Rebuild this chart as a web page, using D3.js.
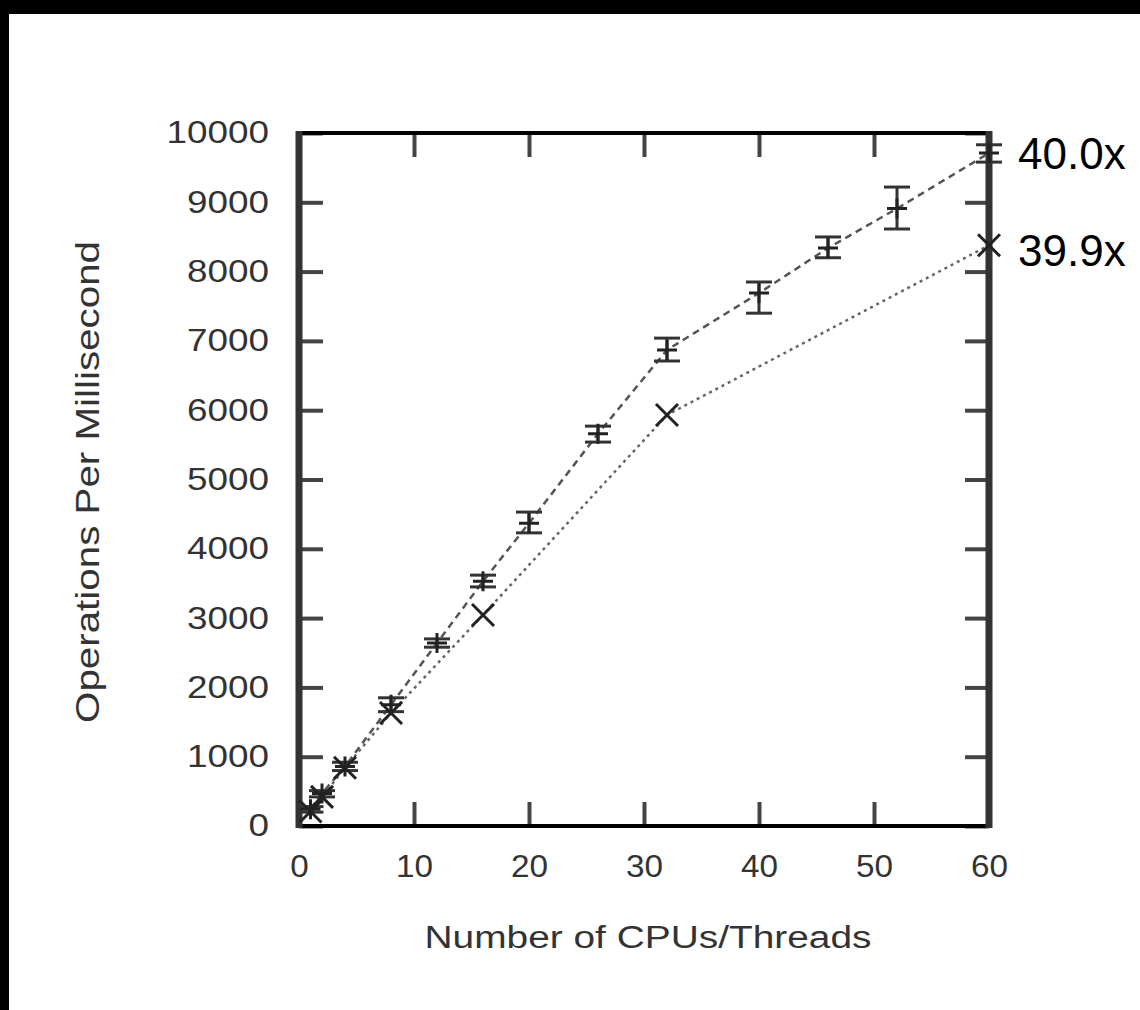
<!DOCTYPE html>
<html>
<head>
<meta charset="utf-8">
<script src="https://cdn.jsdelivr.net/npm/d3@7"></script>
<style>
  body { margin: 0; background: #fff; }
  svg { display: block; }
  text { font-family: "Liberation Sans", Arial, sans-serif; }
</style>
</head>
<body>
<div class="chart"></div>
<script>
// values
const xTicks = [0, 10, 20, 30, 40, 50, 60];
const yTicks = [0, 1000, 2000, 3000, 4000, 5000, 6000, 7000, 8000, 9000, 10000];

// dashed series, "+" points with error bars
const threads1 = [1, 2, 4, 8, 12, 16, 20, 26, 32, 40, 46, 52, 60];
const ops1 = [243, 470, 860, 1750, 2640, 3530, 4370, 5660, 6870, 7690, 8340, 8910, 9710];
const ops1Low = [200, 420, 800, 1650, 2580, 3450, 4230, 5540, 6710, 7400, 8200, 8615, 9580];
const ops1High = [280, 510, 920, 1850, 2700, 3620, 4530, 5770, 7040, 7850, 8500, 9220, 9830];

// dotted series, "x" points
const threads2 = [1, 2, 4, 8, 16, 32, 60];
const ops2 = [210, 420, 840, 1630, 3045, 5930, 8380];

const speedups = ["40.0x", "39.9x"];

const W = 1140, H = 1010;
const margin = {top: 133, left: 299, right: 151, bottom: 184};
const width = W - margin.left - margin.right,
      height = H - margin.top - margin.bottom;

const svg = d3.select(".chart").append("svg")
    .attr("width", W)
    .attr("height", H);

// black border of the screenshot
svg.append("rect").attr("x", 0).attr("y", 0).attr("width", W).attr("height", 14).attr("fill", "#000");
svg.append("rect").attr("x", 0).attr("y", 0).attr("width", 9).attr("height", H).attr("fill", "#000");

const g = svg.append("g")
    .attr("transform", "translate(" + margin.left + "," + margin.top + ")");

const x = d3.scaleLinear().domain([0, 60]).range([0, width]);
const y = d3.scaleLinear().domain([0, 10000]).range([height, 0]);

// axes, ticks pointing inward on all four sides
const xAxis = g.append("g")
    .attr("transform", "translate(0," + height + ")")
    .call(d3.axisBottom(x).tickValues(xTicks).tickSize(-24).tickPadding(29).tickFormat(d3.format("d")));
const yAxis = g.append("g")
    .call(d3.axisLeft(y).tickValues(yTicks).tickSize(-24).tickPadding(30).tickFormat(d3.format("d")));
g.append("g")
    .call(d3.axisTop(x).tickValues(xTicks).tickSize(-24).tickFormat(""));
g.append("g")
    .attr("transform", "translate(" + width + ",0)")
    .call(d3.axisRight(y).tickValues(yTicks).tickSize(-24).tickFormat(""));

g.selectAll(".domain").remove();
g.selectAll(".tick line").attr("stroke", "#444").attr("stroke-width", 4);

xAxis.selectAll("text")
    .attr("font-size", 31)
    .attr("fill", "#333")
    .attr("textLength", d => String(d).length * 18.5)
    .attr("lengthAdjust", "spacingAndGlyphs");
yAxis.selectAll("text")
    .attr("font-size", 31)
    .attr("fill", "#333")
    .attr("textLength", d => String(d).length * 20.5)
    .attr("lengthAdjust", "spacingAndGlyphs");

// frame
g.append("line").attr("x1", 0).attr("x2", width).attr("y1", 0).attr("y2", 0)
    .attr("stroke", "#000").attr("stroke-width", 4);
g.append("line").attr("x1", 0).attr("x2", width).attr("y1", height).attr("y2", height)
    .attr("stroke", "#000").attr("stroke-width", 4);
g.append("line").attr("x1", 0).attr("x2", 0).attr("y1", -2).attr("y2", height + 2)
    .attr("stroke", "#333").attr("stroke-width", 7);
g.append("line").attr("x1", width).attr("x2", width).attr("y1", -2).attr("y2", height + 2)
    .attr("stroke", "#333").attr("stroke-width", 7);

// axis titles
svg.append("text")
    .attr("x", margin.left + width / 2 + 4)
    .attr("y", 948)
    .attr("text-anchor", "middle")
    .attr("font-size", 31)
    .attr("fill", "#333")
    .attr("textLength", 447)
    .attr("lengthAdjust", "spacingAndGlyphs")
    .text("Number of CPUs/Threads");

svg.append("text")
    .attr("transform", "translate(99,482) rotate(-90)")
    .attr("text-anchor", "middle")
    .attr("font-size", 34)
    .attr("fill", "#333")
    .attr("textLength", 482)
    .attr("lengthAdjust", "spacingAndGlyphs")
    .text("Operations Per Millisecond");

// lines
const pts1 = threads1.map((t, i) => ({t: t, v: ops1[i], lo: ops1Low[i], hi: ops1High[i]}));
const pts2 = threads2.map((t, i) => ({t: t, v: ops2[i]}));

const line = d3.line().x(d => x(d.t)).y(d => y(d.v));

g.append("path")
    .datum(pts1)
    .attr("fill", "none")
    .attr("stroke", "#555")
    .attr("stroke-width", 2.5)
    .attr("stroke-dasharray", "7,5")
    .attr("d", line);

g.append("path")
    .datum(pts2)
    .attr("fill", "none")
    .attr("stroke", "#666")
    .attr("stroke-width", 2.5)
    .attr("stroke-dasharray", "3,4")
    .attr("d", line);

// error bars
const err = g.selectAll(".err")
    .data(pts1)
    .enter()
    .append("g")
    .attr("class", "err")
    .attr("stroke", "#333")
    .attr("stroke-width", 3);
err.append("line")
    .attr("x1", d => x(d.t)).attr("x2", d => x(d.t))
    .attr("y1", d => y(d.lo)).attr("y2", d => y(d.hi));
err.append("line")
    .attr("x1", d => x(d.t) - 13).attr("x2", d => x(d.t) + 13)
    .attr("y1", d => y(d.lo)).attr("y2", d => y(d.lo));
err.append("line")
    .attr("x1", d => x(d.t) - 13).attr("x2", d => x(d.t) + 13)
    .attr("y1", d => y(d.hi)).attr("y2", d => y(d.hi));

// "+" markers
g.selectAll(".plus")
    .data(pts1)
    .enter()
    .append("path")
    .attr("class", "plus")
    .attr("stroke", "#222")
    .attr("stroke-width", 3)
    .attr("d", d => {
        const cx = x(d.t), cy = y(d.v), s = 10;
        return "M" + (cx - s) + "," + cy + "H" + (cx + s) + "M" + cx + "," + (cy - s) + "V" + (cy + s);
    });

// "x" markers
g.selectAll(".cross")
    .data(pts2)
    .enter()
    .append("path")
    .attr("class", "cross")
    .attr("stroke", "#222")
    .attr("stroke-width", 3)
    .attr("d", d => {
        const cx = x(d.t), cy = y(d.v), s = 11;
        return "M" + (cx - s) + "," + (cy - s) + "L" + (cx + s) + "," + (cy + s) +
               "M" + (cx - s) + "," + (cy + s) + "L" + (cx + s) + "," + (cy - s);
    });

// speedup labels at the right end of each series
const ends = [ops1[ops1.length - 1], ops2[ops2.length - 1]];
g.selectAll(".speedup")
    .data(speedups)
    .enter()
    .append("text")
    .attr("class", "speedup")
    .attr("x", x(60) + 29)
    .attr("y", (d, i) => y(ends[i]))
    .attr("dy", (d, i) => i == 0 ? "0.37em" : "0.48em")
    .attr("font-size", 44)
    .attr("fill", "#000")
    .text(d => d);
</script>
</body>
</html>
